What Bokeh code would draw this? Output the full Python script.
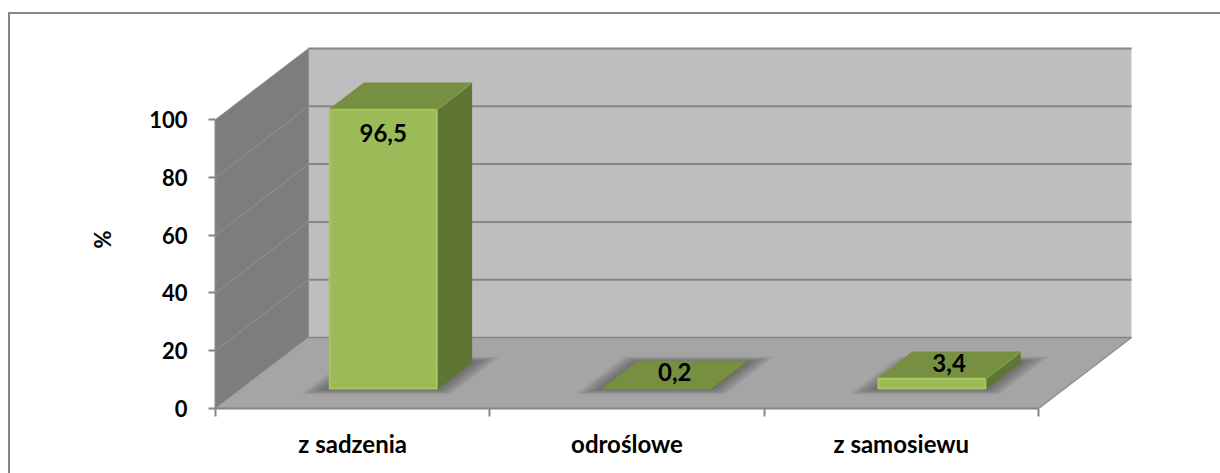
from bokeh.plotting import figure
from bokeh.models import FixedTicker, Title
from bokeh.embed import file_html
from bokeh.resources import INLINE
from bokeh.core.properties import value as fv

categories = ["z sadzenia", "odroślowe", "z samosiewu"]
values = [96.5, 0.2, 3.4]
value_labels = ["96,5", "0,2", "3,4"]
y_ticks = [0, 20, 40, 60, 80, 100]

FONT = "Lato"
PX_X, PX_Y = 274.33, 2.89
DX, DY = 93 / PX_X, 71 / PX_Y
BAR_W = 107 / PX_X
D0, D1 = 0.28, 0.65
SHIFT = 4.5 / PX_X
N = len(categories)

WALL_BACK, WALL_SIDE, FLOOR = "#bebebe", "#7d7d7d", "#a5a5a5"
GRID, AXIS = "#868686", "#868686"
FRONT, TOP, SIDE, EDGE = "#9bbb59", "#768f41", "#5f7533", "#a6c660"


def pr(x, y, d):
    return x + d * DX, y + d * DY


def poly(points):
    pts = [pr(*q) for q in points]
    return [q[0] for q in pts], [q[1] for q in pts]


p = figure(width=1210, height=459, output_backend="svg", toolbar_location=None,
           x_range=(0, 925 / PX_X), y_range=(0, 368 / PX_Y),
           frame_width=925, frame_height=368,
           min_border_left=205, min_border_right=80, min_border_top=26, min_border_bottom=65,
           background_fill_color=None, border_fill_color=None, outline_line_color=None)
p.grid.visible = False
p.styles = {"position": "absolute", "left": "8px", "top": "12px",
            "border-left": f"2px solid {AXIS}", "border-top": f"2px solid {AXIS}"}

def wall(pts, col):
    xs, ys = poly(pts)
    p.patch(xs, ys, fill_color=col, line_color=None)

top = y_ticks[-1]
wall([(0, 0, 1), (N, 0, 1), (N, top, 1), (0, top, 1)], WALL_BACK)
wall([(0, 0, 0), (0, 0, 1), (0, top, 1), (0, top, 0)], WALL_SIDE)
wall([(0, 0, 0), (N, 0, 0), (N, 0, 1), (0, 0, 1)], FLOOR)

for t in y_ticks:
    xs, ys = poly([(0, t, 1), (N, t, 1)])
    p.line(xs, ys, line_color=GRID, line_width=2 if t else 1.5)
    xs, ys = poly([(0, t, 0), (0, t, 1)])
    p.line(xs, ys, line_color="#919191" if t else "#999999", line_width=1)
xs, ys = poly([(N, 0, 0), (N, 0, 1)])
p.line(xs, ys, line_color="#8f8f8f", line_width=1.5)
xs, ys = poly([(0, top, 1), (0, 0, 1)])
p.line(xs, ys, line_color="#8f8f8f", line_width=1)

for i, v in enumerate(values):
    c = i + 0.5 + SHIFT
    l, r = c - BAR_W / 2, c + BAR_W / 2
    for k in range(9, 0, -1):
        ex, ez = k * 2.4 / PX_X, k * 0.009
        xs, ys = poly([(l - ex, 0, D0 - ez), (r + ex, 0, D0 - ez), (r + ex, 0, D1 + ez), (l - ex, 0, D1 + ez)])
        p.patch(xs, ys, fill_color="#3c3c3c", fill_alpha=0.07, line_color=None)
    xs, ys = poly([(r, 0, D0), (r, 0, D1), (r, v, D1), (r, v, D0)])
    p.patch(xs, ys, fill_color=SIDE, line_color=SIDE, line_width=2, line_join="round")
    xs, ys = poly([(l, v, D0), (r, v, D0), (r, v, D1), (l, v, D1)])
    p.patch(xs, ys, fill_color=TOP, line_color=TOP, line_width=2, line_join="round")
    xs, ys = poly([(l, 0, D0), (r, 0, D0), (r, v, D0), (l, v, D0)])
    p.patch(xs, ys, fill_color=FRONT, line_color=EDGE if v > 1 else TOP, line_width=2, line_join="round")
    if v > 1:
        xs, ys = poly([(r, v, D0), (r, v, D1)])
        p.line(xs, ys, line_color="#7f9a48", line_width=1.5)

lx, ly = [], []
for i, v in enumerate(values):
    c = i + 0.5 + SHIFT
    if v > 50:
        x, y = pr(c, v - 23 / PX_Y, D0)
    else:
        x, y = pr(c, v + 2.5 / PX_Y, (D0 + D1) / 2)
    lx.append(x)
    ly.append(y)
p.text(lx, ly, text=value_labels, text_font=fv(FONT), text_font_style="bold", text_font_size="24px",
       text_color="black", text_align="center", text_baseline="middle")

yaxis = p.yaxis[0]
yaxis.ticker = FixedTicker(ticks=y_ticks)
yaxis.bounds = (0, top)
yaxis.major_label_text_font = FONT
yaxis.major_label_text_font_style = "bold"
yaxis.major_label_text_font_size = "22px"
yaxis.major_label_text_color = "black"
yaxis.major_label_standoff = 21
yaxis.axis_line_color = AXIS
yaxis.axis_line_width = 2
yaxis.major_tick_line_color = AXIS
yaxis.major_tick_line_width = 2
yaxis.major_tick_out = 7
yaxis.major_tick_in = 0
yaxis.minor_tick_line_color = None

p.add_layout(Title(text="%", align="left", offset=160, standoff=61, text_font=FONT,
                   text_font_style="bold", text_font_size="22px", text_color="black"), "left")

xaxis = p.xaxis[0]
centers = [i + 0.5 for i in range(N)]
xaxis.ticker = FixedTicker(ticks=centers, minor_ticks=list(range(N + 1)))
xaxis.major_label_overrides = {c: name for c, name in zip(centers, categories)}
xaxis.bounds = (0, N)
xaxis.major_label_text_font = FONT
xaxis.major_label_text_font_style = "bold"
xaxis.major_label_text_font_size = "24px"
xaxis.major_label_text_color = "black"
xaxis.major_label_standoff = 12
xaxis.axis_line_color = AXIS
xaxis.axis_line_width = 2
xaxis.major_tick_line_color = None
xaxis.major_tick_in = 0
xaxis.major_tick_out = 0
xaxis.minor_tick_line_color = AXIS
xaxis.minor_tick_line_width = 2
xaxis.minor_tick_out = 8
xaxis.minor_tick_in = 0

open("out.html", "w").write(file_html(p, INLINE))
